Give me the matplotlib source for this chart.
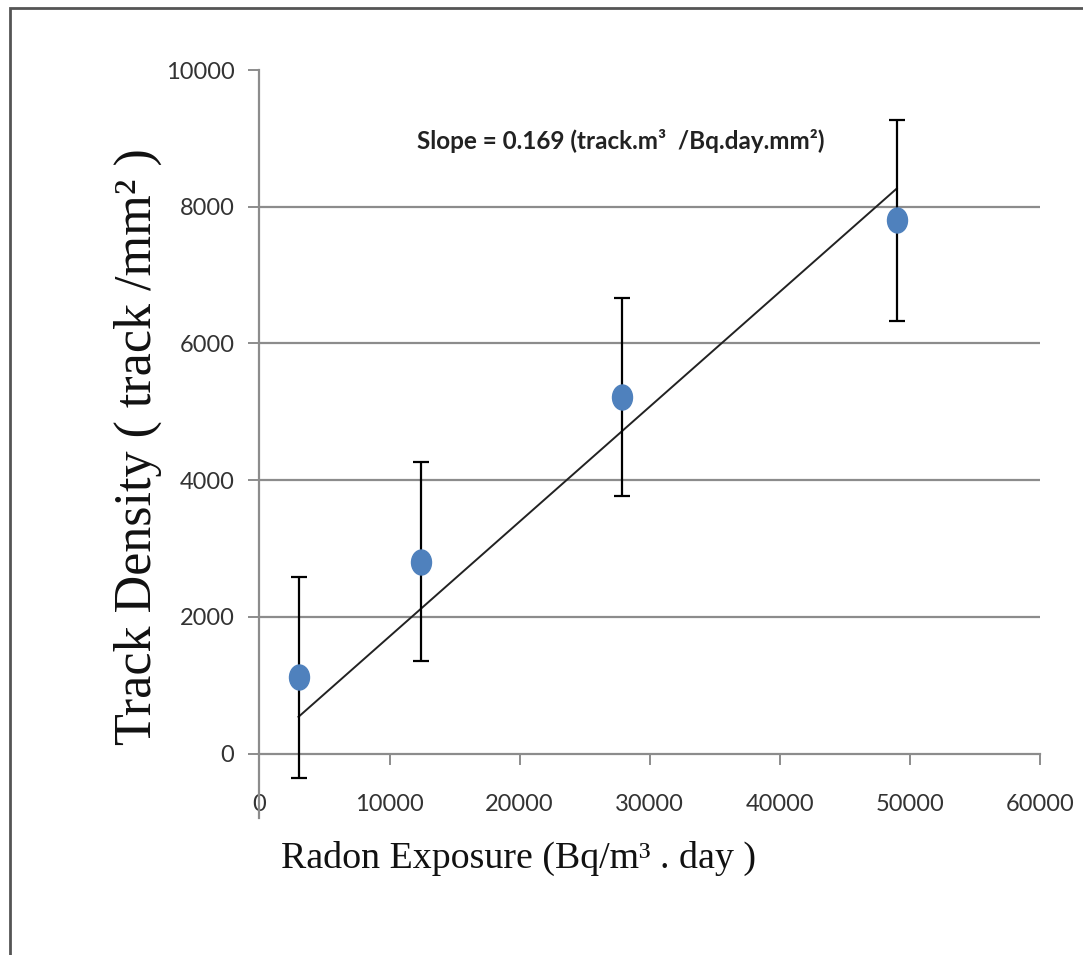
import matplotlib
matplotlib.use('Agg')
import matplotlib.pyplot as plt
import numpy as np
from matplotlib.path import Path
from matplotlib.patches import Rectangle

# radon exposure (Bq/m3.day) vs track density (track/mm2)
exposure = [3000, 12400, 27900, 49000]
density = [1115, 2810, 5215, 7800]
density_err = [1465, 1450, 1450, 1470]

# linear fit as drawn on the chart
fit_slope = 0.168
fit_intercept = 35
fit_label = 'Slope = 0.169 (track.m\u00b3  /Bq.day.mm\u00b2)'

x_ticks = [0, 10000, 20000, 30000, 40000, 50000, 60000]
y_ticks = [0, 2000, 4000, 6000, 8000, 10000]
grid_levels = [2000, 4000, 6000, 8000]

fig = plt.figure(figsize=(10.83, 9.55), dpi=100)
ax = fig.add_axes([0.2396, 0.1435, 0.7206, 0.7832])

# frame round the whole chart
fig.patches.append(Rectangle((10 / 1083, -0.05), 1.2, 0.05 + 1 - 8 / 955,
                             transform=fig.transFigure, fill=False,
                             edgecolor='#555555', linewidth=2.0))

for lvl in grid_levels:
    ax.axhline(lvl, color='#8c8c8c', linewidth=1.6, zorder=1)

# slightly squashed ellipse marker, like the original
circ = Path.unit_circle()
ell = Path(circ.vertices * np.array([0.8, 1.0]), circ.codes)

ax.errorbar(exposure, density, yerr=density_err, fmt='none',
            ecolor='black', elinewidth=1.6, capsize=6, capthick=1.6, zorder=3)
ax.plot(exposure, density, linestyle='none', marker=ell, markersize=18,
        color='#4f81bd', zorder=4)

xf = np.array([exposure[0], exposure[-1]])
ax.plot(xf, fit_slope * xf + fit_intercept, color='#222222', linewidth=1.4,
        zorder=2)

ax.text(0.463, 0.905, fit_label, transform=ax.transAxes, ha='center',
        va='center', fontsize=17.5, fontweight='bold', family='Lato',
        color='#222222')

ax.set_xlim(0, 60000)
ax.set_ylim(-940, 10000)
ax.set_xticks(x_ticks)
ax.set_yticks(y_ticks)

for s in ['top', 'right']:
    ax.spines[s].set_visible(False)
ax.spines['bottom'].set_position(('data', 0))
for s in ['left', 'bottom']:
    ax.spines[s].set_color('#8c8c8c')
    ax.spines[s].set_linewidth(1.6)
ax.tick_params(axis='both', colors='#8c8c8c', length=8, width=1.4,
               labelcolor='#333333', labelsize=17)
ax.tick_params(axis='x', pad=21)
ax.tick_params(axis='y', pad=10)
for lab in ax.get_xticklabels() + ax.get_yticklabels():
    lab.set_family('Lato')

fig.text(0.479, 1 - 858 / 955, 'Radon Exposure (Bq/m\u00b3 . day )',
         ha='center', va='center', fontsize=27.3, family='Liberation Serif',
         color='#111111')
fig.text(0.127, 1 - 447 / 955, 'Track Density ( track /mm\u00b2 )', rotation=90,
         ha='center', va='center', fontsize=37.5, family='Liberation Serif',
         color='#111111')

fig.savefig('out.png', dpi=100)
